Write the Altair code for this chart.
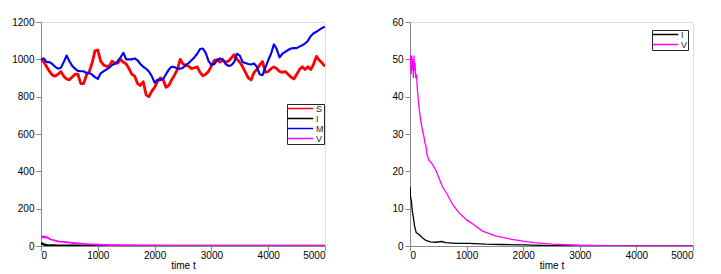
import altair as alt
import pandas as pd

# ---- data ----
t_sm = list(range(0, 5001, 50))
S_vals = [
    1000, 985, 960, 935, 915, 910, 920, 935, 910, 895,
    890, 905, 920, 920, 870, 870, 915, 935, 980, 1045,
    1050, 990, 970, 963, 963, 990, 980, 980, 1000, 985,
    975, 950, 920, 910, 870, 860, 880, 810, 800, 830,
    850, 880, 900, 890, 850, 860, 890, 915, 945, 1000,
    975, 968, 963, 950, 955, 960, 930, 912, 920, 936,
    965, 995, 998, 985, 995, 985, 990, 1007, 1025, 1000,
    985, 960, 930, 900, 890, 930, 945, 970, 988, 930,
    935, 950, 960, 950, 935, 930, 935, 920, 905, 895,
    918, 945, 960, 945, 960, 945, 975, 1016, 995, 980,
    963,
]
M_vals = [
    1000, 1005, 985, 985, 975, 960, 950, 955, 985, 1020,
    990, 965, 950, 938, 936, 936, 927, 927, 918, 905,
    895, 925, 936, 945, 955, 970, 975, 990, 1010, 1035,
    1000, 1000, 1000, 1005, 995, 975, 960, 950, 935, 910,
    875, 890, 890, 895, 920, 945, 960, 958, 950, 950,
    955, 970, 980, 995, 1010, 1030, 1055, 1058, 1035, 990,
    970, 975, 995, 1005, 1000, 975, 965, 968, 985, 1030,
    1020, 985, 980, 975, 972, 978, 960, 920, 915, 955,
    995, 1030, 1080, 1055, 1010, 1030, 1040, 1050, 1058, 1060,
    1060, 1068, 1075, 1085, 1100, 1125, 1140, 1148, 1158, 1168,
    1175,
]
V_t = [0, 10, 20, 30, 40, 50, 60, 70, 80, 90, 100, 115, 130, 160, 190, 220,
       250, 265, 280, 300, 335, 390, 450, 510, 570, 660, 750, 860, 1000,
       1100, 1280, 1510, 1800, 2000, 2200, 2500, 3000, 3500, 4000, 4500, 5000]
V_vals = [49, 51, 46, 51, 47, 50, 45, 51, 47, 49, 45, 46, 42, 37, 33.5, 31,
          29, 27.5, 27, 24.5, 23, 22, 20.5, 18.3, 16, 13.8, 11.2, 9, 7,
          6, 4, 2.7, 1.8, 1.3, 0.9, 0.5, 0.2, 0.08, 0.03, 0.01, 0.0]
I_t = [0, 10, 25, 40, 60, 80, 110, 160, 220, 280, 360, 450, 560, 630, 810,
       1040, 1330, 1620, 2000, 2500, 3000, 4000, 5000]
I_vals = [16, 13, 12, 9.4, 7.6, 5.4, 3.6, 3.1, 2.2, 1.5, 1.1, 1.0, 1.2, 0.9, 0.7,
          0.7, 0.5, 0.4, 0.3, 0.1, 0.05, 0.02, 0.0]

x_ticks = [0, 1000, 2000, 3000, 4000, 5000]
y_ticks_left = [0, 200, 400, 600, 800, 1000, 1200]
y_ticks_right = [0, 10, 20, 30, 40, 50, 60]

rows = []
for t, v in zip(t_sm, S_vals):
    rows.append({"t": t, "value": v, "series": "S"})
for t, v in zip(I_t, I_vals):
    rows.append({"t": t, "value": v, "series": "I"})
for t, v in zip(t_sm, M_vals):
    rows.append({"t": t, "value": v, "series": "M"})
for t, v in zip(V_t, V_vals):
    rows.append({"t": t, "value": v, "series": "V"})
df = pd.DataFrame(rows)
df_right = df[df["series"].isin(["I", "V"])]

legend_common = dict(
    title=None, orient="none", symbolType="stroke", symbolSize=650,
    symbolStrokeWidth=1.5, labelFontSize=9, labelFont="Liberation Sans",
    labelColor="#262626", strokeColor="#262626", fillColor="white",
    padding=0, clipHeight=9, rowPadding=-1, labelOffset=2,
)

x_axis = alt.Axis(values=x_ticks, title="time t", format="d", titlePadding=0,
                  labelPadding=-1, titleFontWeight="normal", grid=False,
                  titleFont="Liberation Sans", titleFontSize=10)

left = alt.Chart(df).mark_line(clip=True, strokeJoin="round").encode(
    x=alt.X("t:Q", scale=alt.Scale(domain=[0, 5000], nice=False), axis=x_axis),
    y=alt.Y("value:Q", scale=alt.Scale(domain=[0, 1200], nice=False),
            axis=alt.Axis(values=y_ticks_left, title=None, format="d", grid=False,
                          minExtent=29, maxExtent=29)),
    color=alt.Color("series:N",
                    scale=alt.Scale(domain=["S", "I", "M", "V"],
                                    range=["#ff0000", "#000000", "#0000ff", "#ff00ff"]),
                    legend=alt.Legend(legendX=246, legendY=82, **legend_common)),
    strokeWidth=alt.StrokeWidth("series:N",
                                scale=alt.Scale(domain=["S", "I", "M", "V"],
                                                range=[2.8, 1.8, 2.8, 1.8]),
                                legend=None),
    order=alt.Order("t:Q"),
).properties(width=284, height=224)

right = alt.Chart(df_right).mark_line(clip=True, strokeWidth=1.3).encode(
    x=alt.X("t:Q", scale=alt.Scale(domain=[0, 5000], nice=False), axis=x_axis),
    y=alt.Y("value:Q", scale=alt.Scale(domain=[0, 60], nice=False),
            axis=alt.Axis(values=y_ticks_right, title=None, format="d", grid=False,
                          minExtent=20, maxExtent=20)),
    color=alt.Color("series:N",
                    scale=alt.Scale(domain=["I", "V"], range=["#000000", "#ff00ff"]),
                    legend=alt.Legend(legendX=242, legendY=8, **legend_common)),
    order=alt.Order("t:Q"),
).properties(width=283, height=224)

chart = alt.hconcat(left, right, spacing=63).resolve_scale(
    color="independent"
).resolve_legend(color="independent").properties(
    padding={"left": 3, "top": 8, "right": 5, "bottom": 0}
).configure_axis(
    labelFont="Liberation Sans", labelFontSize=9.5, labelColor="#262626",
    titleFont="Liberation Sans", titleFontSize=10, titleFontWeight="normal",
    titleColor="#262626", tickColor="#262626", domainColor="#262626",
    tickSize=2, grid=False,
).configure_view(
    stroke="#262626", strokeWidth=1
).configure(background="white")

chart.save("out.html", embed_options={"renderer": "svg", "actions": False})
